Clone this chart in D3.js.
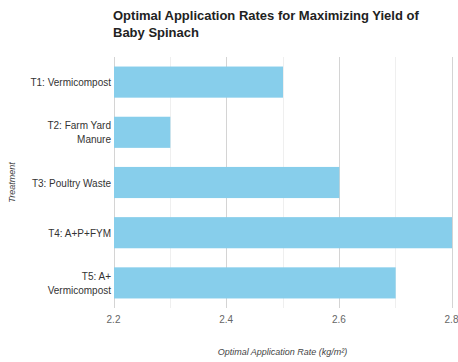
<!DOCTYPE html>
<html>
<head>
<meta charset="utf-8">
<script src="https://d3js.org/d3.v7.min.js"></script>
<style>
  body { margin: 0; background: #fff; }
  text { font-family: "Liberation Sans", Arial, sans-serif; }
</style>
</head>
<body>
<script>
  var width = 458
  var height = 362

  // data
  var treatments = ["T1: Vermicompost", "T2: Farm Yard Manure", "T3: Poultry Waste", "T4: A+P+FYM", "T5: A+ Vermicompost"]
  var labelLines = [["T1: Vermicompost"], ["T2: Farm Yard", "Manure"], ["T3: Poultry Waste"], ["T4: A+P+FYM"], ["T5: A+", "Vermicompost"]]
  var rates = [2.5, 2.3, 2.6, 2.8, 2.7]
  var xTicks = [2.2, 2.4, 2.6, 2.8]
  var gridTicks = [2.2, 2.3, 2.4, 2.5, 2.6, 2.7, 2.8]

  var plotLeft = 113.5, plotRight = 451.5, plotTop = 57, plotBottom = 308

  var svg = d3.select("body").append("svg")
              .attr("width", width)
              .attr("height", height)

  var x = d3.scaleLinear().domain([2.2, 2.8]).range([plotLeft, plotRight])
  var y = d3.scaleBand().domain(treatments).range([plotTop, plotBottom]).paddingInner(0.38).paddingOuter(0.19)

  // title
  svg.append("text").attr("x", 113).attr("y", 20)
     .style("font-size", "13px").style("font-weight", "bold").attr("fill", "#222")
     .text("Optimal Application Rates for Maximizing Yield of")
  svg.append("text").attr("x", 113).attr("y", 37)
     .style("font-size", "13px").style("font-weight", "bold").attr("fill", "#222")
     .text("Baby Spinach")

  // grid
  svg.append("g").selectAll("line")
     .data(gridTicks)
     .enter().append("line")
     .attr("x1", function(d) { return Math.round(x(d)) + 0.5 })
     .attr("x2", function(d) { return Math.round(x(d)) + 0.5 })
     .attr("y1", plotTop)
     .attr("y2", plotBottom)
     .attr("stroke", function(d, i) { return i % 2 == 0 ? "#d4d4d4" : "#efefef" })
     .attr("stroke-width", 1)

  // bars
  svg.append("g").selectAll("rect")
     .data(rates)
     .enter().append("rect")
     .attr("x", x(2.2) + 0.5)
     .attr("y", function(d, i) { return y(treatments[i]) })
     .attr("width", function(d) { return x(d) - x(2.2) })
     .attr("height", y.bandwidth())
     .attr("fill", "#87ceeb")

  // x tick labels
  svg.append("g").selectAll("text")
     .data(xTicks)
     .enter().append("text")
     .attr("x", function(d) { return x(d) })
     .attr("y", 323)
     .attr("text-anchor", "middle")
     .style("font-size", "10px")
     .attr("fill", "#666")
     .text(function(d) { return d3.format(".1f")(d) })

  // y tick labels
  var yl = svg.append("g").selectAll("text")
     .data(treatments)
     .enter().append("text")
     .attr("text-anchor", "end")
     .attr("x", 111)
     .attr("y", function(d) { return y(d) + y.bandwidth() / 2 })
     .style("font-size", "10px")
     .attr("fill", "#333")
  yl.each(function(d, i) {
    var lines = labelLines[i]
    var t = d3.select(this)
    lines.forEach(function(l, j) {
      t.append("tspan")
       .attr("x", 111)
       .attr("dy", j == 0 ? (4 - (lines.length - 1) * 7) : 14)
       .text(l)
    })
  })

  // axis titles
  svg.append("text")
     .attr("x", (plotLeft + plotRight) / 2).attr("y", 355)
     .attr("text-anchor", "middle")
     .style("font-size", "9px").style("font-style", "italic")
     .attr("fill", "#444")
     .text("Optimal Application Rate (kg/m²)")

  svg.append("text")
     .attr("transform", "translate(15," + ((plotTop + plotBottom) / 2) + ") rotate(-90)")
     .attr("text-anchor", "middle")
     .style("font-size", "9px").style("font-style", "italic")
     .attr("fill", "#444")
     .text("Treatment")
</script>
</body>
</html>
